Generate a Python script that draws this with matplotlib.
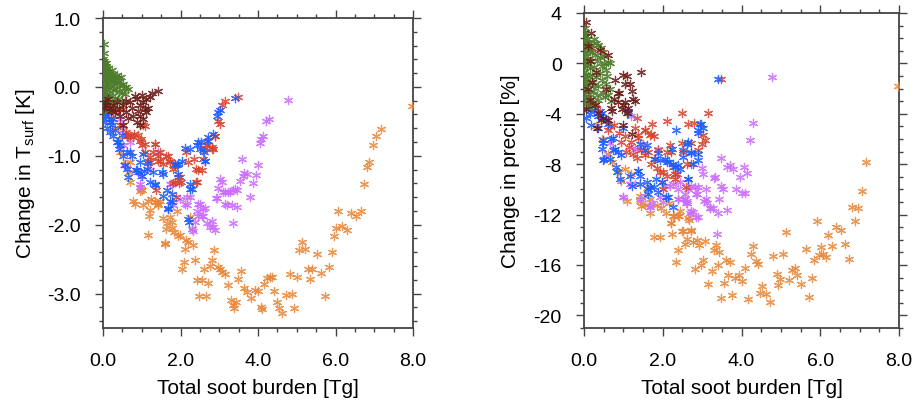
import matplotlib.pyplot as plt
from matplotlib.ticker import MultipleLocator, FormatStrFormatter

plt.rcParams['font.family'] = ['Liberation Sans', 'DejaVu Sans']
plt.rcParams['axes.unicode_minus'] = False

# (burden [Tg], change in surface temperature [K])
green_T = [(0.02,0.62),(0.02,0.49),(0.01,0.40),(0.03,0.37),(0.05,0.34),(0.02,0.31),(0.07,0.30),(0.04,0.27),
           (0.10,0.26),(0.01,0.24),(0.06,0.22),(0.12,0.21),(0.03,0.19),(0.09,0.17),(0.15,0.18),(0.20,0.16),
           (0.26,0.19),(0.31,0.15),(0.36,0.17),(0.42,0.13),(0.46,0.14),(0.01,0.13),(0.05,0.11),(0.11,0.10),
           (0.17,0.09),(0.23,0.07),(0.29,0.08),(0.37,0.05),(0.44,0.03),(0.52,0.04),(0.60,0.00),(0.65,-0.03),
           (0.02,0.05),(0.07,0.02),(0.13,0.00),(0.19,-0.02),(0.27,-0.04),(0.34,-0.03),(0.41,-0.07),(0.49,-0.09),
           (0.57,-0.11),(0.01,-0.04),(0.05,-0.08),(0.10,-0.10),(0.16,-0.12),(0.24,-0.13),(0.32,-0.16),(0.39,-0.18),
           (0.48,-0.20),(0.02,-0.15),(0.06,-0.19),(0.12,-0.22),(0.19,-0.24),(0.28,-0.27),(0.01,-0.25),(0.04,-0.29),
           (0.09,-0.31),(0.15,-0.30),(0.03,-0.34),(0.00,0.30),(0.00,0.18),(0.00,0.08),(0.00,-0.01),(0.00,-0.12),
           (0.00,-0.20),(0.08,0.35),(0.14,0.28),(0.22,0.24),(0.18,0.12),(0.25,0.02),(0.33,0.10),(0.55,-0.02),(0.40,0.09)]
brown_T = [(1.43,-0.06),(1.26,-0.09),(1.21,-0.15),(1.12,-0.18),(1.04,-0.22),(0.95,-0.27),(0.87,-0.17),(0.83,-0.13),
           (0.70,-0.22),(0.74,-0.30),(0.52,-0.27),(0.60,-0.37),(0.78,-0.42),(0.95,-0.42),(1.04,-0.46),(0.95,-0.56),
           (0.87,-0.51),(0.52,-0.56),(0.40,-0.32),(0.27,-0.27),(0.17,-0.30),(0.09,-0.27),(0.05,-0.22),(0.13,-0.17),
           (0.30,-0.37),(0.43,-0.42),(1.12,-0.37),(1.17,-0.30),(1.08,-0.32),(0.65,-0.45),(0.02,-0.30),(0.20,-0.35),
           (0.35,-0.22),(0.90,-0.35),(1.00,-0.12),(0.60,-0.20)]
blue_T = [(0.01,-0.32),(0.09,-0.42),(0.18,-0.51),(0.05,-0.51),(0.27,-0.46),(0.22,-0.56),(0.13,-0.37),(0.03,-0.42),
          (0.10,-0.60),(0.18,-0.66),(0.27,-0.71),(0.35,-0.80),(0.40,-0.90),(0.44,-0.85),(0.52,-1.00),(0.61,-0.95),
          (0.70,-0.95),(0.74,-1.00),(0.57,-1.14),(0.61,-1.19),(0.87,-1.21),(0.91,-1.24),(0.95,-1.09),(1.04,-0.97),
          (1.13,-1.19),(1.30,-1.24),(1.34,-1.41),(1.21,-1.38),(1.51,-1.24),(1.56,-1.26),(1.64,-1.50),(1.77,-1.55),
          (1.90,-1.14),(1.94,-1.12),(2.03,-1.07),(2.12,-0.88),(2.25,-0.90),(2.42,-0.85),(2.46,-0.80),(2.50,-0.90),
          (2.63,-1.07),(2.72,-0.73),(2.85,-0.68),(2.93,-0.42),(2.98,-0.37),(3.02,-0.34),(3.41,-0.16),(1.94,-1.26),
          (2.25,-1.41),(2.29,-1.48),(1.73,-1.65),(1.77,-1.67),(1.69,-1.76),(2.22,-1.96),(0.39,-0.80),(0.65,-1.31),
          (0.86,-1.21),(1.06,-1.22),(1.33,-1.43),(1.55,-1.58),(1.68,-1.77),(1.85,-1.12),(2.24,-1.48),(2.19,-1.92),
          (2.54,-0.80),(2.62,-1.07),(2.72,-0.78),(0.48,-0.70),(0.30,-0.62),(1.00,-1.30),(1.15,-1.10),(2.60,-0.95)]
red_T = [(3.49,-0.15),(3.15,-0.20),(3.06,-0.26),(2.98,-0.49),(3.02,-0.54),(2.89,-0.71),(2.81,-0.90),(2.68,-0.85),
         (2.59,-0.92),(2.59,-1.05),(2.55,-1.21),(0.69,-0.71),(0.80,-0.68),(0.90,-0.70),(0.99,-0.75),(1.08,-0.83),
         (1.33,-0.83),(1.29,-0.95),(1.46,-0.95),(1.16,-1.07),(1.42,-1.07),(1.63,-1.00),(1.72,-1.07),(1.55,-1.12),
         (1.85,-1.14),(1.94,-1.31),(1.96,-1.39),(1.80,-1.39),(2.15,-0.95),(2.19,-1.09),(2.34,-1.05),(2.41,-1.19),
         (2.46,-1.20),(2.62,-0.88),(2.84,-0.90),(2.88,-0.71),(2.41,-1.38),(1.89,-1.60),(1.38,-1.50),(1.22,-1.09),
         (0.60,-0.66),(0.61,-0.71),(0.78,-0.73),(0.95,-0.78),(1.00,-0.85),(1.34,-0.83),(1.08,-0.95),(1.21,-1.02),
         (1.43,-1.00),(1.47,-1.07),(1.69,-1.00),(1.73,-1.09),(1.81,-1.19),(1.99,-1.31),(2.00,-1.38),(1.85,-1.38),
         (2.42,-1.38),(2.80,-0.87),(2.68,-0.78),(0.34,-0.34),(0.52,-0.32),(0.65,-0.71),(1.08,-0.57),(1.04,-0.56),
         (0.20,-0.45),(0.45,-0.55)]
purple_T = [(4.78,-0.19),(4.21,-0.50),(4.29,-0.46),(4.14,-0.72),(4.09,-0.76),(4.05,-0.81),(3.59,-1.04),(4.01,-1.13),
            (3.95,-1.28),(3.71,-1.26),(3.62,-1.29),(3.54,-1.36),(3.88,-1.39),(3.79,-1.60),(3.45,-1.50),(3.36,-1.50),
            (3.27,-1.52),(3.14,-1.52),(3.02,-1.33),(3.06,-1.38),(2.98,-1.47),(2.93,-1.62),(3.15,-1.70),(3.19,-1.72),
            (3.32,-1.72),(3.45,-1.75),(2.46,-1.70),(2.63,-1.76),(2.25,-1.60),(2.16,-1.60),(1.99,-1.63),(1.77,-1.41),
            (1.43,-0.95),(0.95,-1.41),(0.95,-1.46),(0.48,-0.56),(0.52,-0.63),(0.43,-0.46),(2.50,-1.70),(1.81,-1.72),
            (2.16,-1.72),(2.42,-1.80),(2.59,-1.77),(2.46,-1.87),(2.59,-1.87),(2.37,-1.96),(2.68,-1.97),(2.80,-1.95),
            (2.76,-2.04),(2.85,-2.04),(2.89,-2.08),(2.29,-2.06),(2.33,-2.09),(3.36,-1.98),(2.55,-1.87),(2.92,-1.62),
            (0.52,-0.85),(0.99,-1.29),(1.72,-1.41),(2.11,-1.70),(3.65,-1.25),(3.10,-1.53),(3.23,-1.53),(3.41,-1.48),
            (0.70,-0.80),(1.20,-1.20)]
orange_T = [(7.98,-0.28),(7.17,-0.61),(7.04,-0.72),(6.96,-0.84),(6.87,-1.09),(6.82,-1.16),(6.74,-1.41),(6.07,-1.80),
            (6.39,-1.83),(6.52,-1.87),(6.65,-1.80),(6.01,-2.05),(6.18,-2.02),(6.29,-2.08),(5.96,-2.17),(5.14,-2.25),
            (5.06,-2.37),(5.22,-2.36),(5.51,-2.42),(5.91,-2.40),(5.28,-2.64),(5.40,-2.64),(5.83,-2.62),(5.63,-2.70),
            (5.33,-2.79),(4.83,-2.72),(5.00,-2.76),(5.73,-3.03),(4.89,-3.01),(4.71,-3.02),(4.94,-3.21),(4.62,-3.28),
            (4.54,-3.21),(4.48,-3.12),(4.42,-2.96),(4.16,-2.86),(4.22,-2.77),(4.31,-2.76),(4.35,-2.76),(4.08,-3.19),
            (4.11,-3.23),(3.83,-3.07),(3.72,-2.98),(3.93,-2.95),(4.01,-2.96),(3.65,-2.92),(3.48,-2.79),(3.23,-2.87),
            (3.30,-3.09),(3.36,-3.16),(3.42,-3.12),(3.39,-3.21),(3.56,-2.67),(3.14,-2.72),(3.02,-2.64),(3.06,-2.68),
            (2.96,-2.62),(2.77,-2.60),(2.61,-2.64),(2.81,-2.51),(2.86,-2.37),(2.71,-2.84),(2.67,-3.03),(2.47,-3.04),
            (2.42,-2.80),(2.55,-2.80),(2.37,-2.52),(2.08,-2.54),(2.04,-2.64),(2.12,-2.36),(2.15,-2.22),(2.20,-2.25),
            (2.32,-2.30),(1.98,-2.15),(1.61,-2.27),(1.17,-2.15),(1.82,-2.11),(1.77,-2.05),(1.63,-2.07),(1.66,-1.98),
            (1.79,-1.96),(1.73,-1.89),(1.54,-1.91),(1.92,-1.80),(2.24,-1.89),(2.29,-2.06),(1.21,-1.79),(1.19,-1.88),
            (0.78,-1.65),(0.83,-1.70),(1.04,-1.72),(1.34,-1.67),(1.43,-1.70),(1.47,-1.66),(1.00,-1.50),(0.70,-1.38),
            (0.68,-1.24),(0.57,-1.12),(0.95,-1.51),(0.69,-1.09),(0.99,-1.48),(1.16,-1.65),(1.25,-1.63),(1.38,-1.67),
            (1.42,-1.72),(1.59,-2.28),(1.94,-2.16),(0.55,-1.14),(0.40,-0.75),(0.30,-0.60),(0.20,-0.45),(0.45,-0.95)]

# (burden [Tg], change in precipitation [%])
green_P = [(0.02,2.8),(0.03,2.5),(0.05,2.2),(0.01,2.0),(0.08,1.9),(0.04,1.7),(0.12,1.6),(0.02,1.4),(0.17,1.5),
           (0.25,1.9),(0.30,1.6),(0.36,1.5),(0.44,1.2),(0.07,1.2),(0.14,1.0),(0.21,0.9),(0.01,0.8),(0.05,0.6),
           (0.28,0.7),(0.52,0.55),(0.40,0.5),(0.10,0.3),(0.18,0.2),(0.33,0.2),(0.60,0.1),(0.66,0.0),(0.02,0.0),
           (0.07,-0.2),(0.14,-0.4),(0.25,-0.3),(0.45,-0.2),(0.57,-0.5),(0.01,-0.7),(0.05,-0.9),(0.11,-1.0),
           (0.20,-0.9),(0.30,-1.1),(0.58,-1.0),(0.40,-0.8),(0.03,-1.4),(0.08,-1.6),(0.16,-1.5),(0.26,-1.7),
           (0.36,-1.8),(0.57,-1.6),(0.01,-2.0),(0.06,-2.2),(0.12,-2.4),(0.22,-2.2),(0.33,-2.5),(0.48,-2.35),
           (0.02,-2.7),(0.09,-2.9),(0.19,-2.8),(0.36,-2.9),(0.53,-2.7),(0.69,-3.0),(0.04,-3.2),(0.14,-3.3),
           (0.20,-3.4),(0.00,1.1),(0.00,0.3),(0.00,-0.4),(0.00,-1.2),(0.00,-1.9),(0.00,2.4),(0.65,-2.0),
           (0.45,-1.3),(0.62,-2.5),(0.50,0.0)]
brown_P = [(0.06,3.3),(0.19,2.4),(0.10,1.4),(0.40,1.1),(0.61,0.7),(1.45,-0.66),(0.98,-0.93),(1.10,-0.98),
           (0.79,-1.3),(1.04,-1.64),(1.17,-1.64),(1.21,-2.2),(0.90,-2.35),(0.86,-2.35),(1.25,-2.83),(1.29,-3.0),
           (0.86,-3.1),(1.03,-3.1),(1.00,-3.3),(1.12,-3.5),(0.96,-3.6),(1.08,-3.9),(0.70,-3.75),(0.69,-3.5),
           (0.49,-4.3),(0.61,-4.5),(0.44,-4.5),(0.32,-5.1),(0.36,-3.9),(0.27,-3.3),(0.15,-2.9),(0.10,-2.0),
           (0.30,-0.7),(1.00,-4.9),(1.21,-5.6),(0.20,-1.5),(0.55,-2.0),(0.75,-2.8),(0.05,-3.6),(0.15,0.2)]
blue_P = [(3.41,-1.24),(0.10,-3.6),(0.15,-4.0),(0.25,-3.7),(0.35,-4.2),(0.45,-3.9),(0.55,-4.4),(0.05,-4.3),
          (0.19,-4.9),(0.36,-5.1),(0.62,-4.8),(0.74,-5.9),(0.49,-6.1),(0.46,-6.8),(0.74,-6.9),(0.66,-7.6),
          (0.49,-7.7),(1.00,-5.1),(1.13,-3.8),(1.42,-6.4),(1.59,-6.5),(1.55,-6.9),(1.89,-7.1),(1.80,-7.6),
          (1.93,-7.7),(2.10,-7.8),(2.27,-8.0),(2.39,-8.1),(2.23,-6.8),(2.52,-7.4),(2.61,-6.4),(2.73,-7.1),
          (2.77,-8.0),(2.90,-5.5),(2.94,-4.8),(3.03,-5.1),(2.34,-5.3),(2.65,-6.2),(0.83,-8.6),(0.91,-9.2),
          (1.21,-9.7),(1.38,-8.5),(1.42,-8.9),(1.59,-9.4),(1.68,-9.8),(1.84,-9.2),(1.97,-9.4),(2.14,-10.6),
          (2.65,-9.2),(1.63,-10.4),(0.48,-6.3),(0.69,-6.0),(0.52,-7.6),(0.78,-6.8),(0.86,-7.05),(0.95,-7.3),
          (0.82,-8.2),(1.16,-8.9),(1.37,-8.5),(1.41,-9.6),(1.62,-9.96),(1.79,-9.8),(1.87,-10.2),(2.09,-10.6),
          (2.25,-11.4),(2.30,-8.2),(2.43,-8.4),(2.64,-9.2),(2.89,-7.7),(2.89,-7.2),(2.72,-7.05),(2.51,-6.9),
          (2.98,-4.8),(2.89,-5.3),(1.12,-3.9),(2.05,-7.6),(2.17,-7.8)]
red_P = [(3.49,-1.2),(2.50,-3.9),(3.16,-3.9),(2.12,-4.6),(2.65,-4.8),(2.80,-4.7),(1.72,-4.8),(1.34,-4.3),
         (1.29,-5.1),(1.55,-5.3),(1.68,-5.7),(1.78,-5.8),(1.38,-5.9),(3.03,-5.7),(3.07,-6.05),(2.99,-6.4),
         (2.73,-6.3),(2.48,-6.3),(2.18,-6.5),(1.89,-6.9),(2.10,-7.05),(2.90,-6.9),(2.61,-8.0),(2.73,-8.0),
         (2.27,-8.2),(2.35,-8.8),(2.31,-9.2),(1.93,-8.6),(1.97,-9.4),(1.71,-5.6),(1.54,-5.3),(1.37,-5.7),
         (2.22,-7.05),(2.51,-7.05),(1.62,-7.05),(1.54,-7.3),(1.79,-7.6),(1.07,-7.05),(1.15,-6.6),(1.25,-7.2),
         (1.35,-7.5),(1.45,-6.9),(2.60,-9.8),(2.01,-9.96),(2.01,-8.6),(2.30,-8.8),(0.55,-4.6),(0.65,-5.0),
         (0.60,-5.3),(0.75,-4.9),(0.90,-5.5),(1.05,-5.8),(1.20,-6.2),(0.40,-3.8),(0.30,-3.2),(0.49,0.9),
         (0.20,1.2),(0.95,-6.2),(1.70,-8.0),(1.85,-8.3),(2.10,-8.9)]
purple_P = [(4.78,-1.1),(4.30,-4.7),(4.21,-6.1),(3.47,-7.5),(4.06,-8.25),(4.15,-8.7),(3.62,-8.25),(3.71,-8.1),
            (3.79,-8.4),(2.99,-8.3),(3.03,-8.8),(3.31,-9.1),(3.96,-9.0),(3.49,-9.7),(3.54,-9.96),(3.87,-10.0),
            (4.00,-10.3),(4.09,-10.3),(2.82,-9.8),(2.90,-9.8),(3.11,-9.96),(2.86,-10.4),(2.56,-10.4),(2.52,-10.75),
            (2.44,-9.4),(2.18,-9.7),(2.31,-8.8),(2.39,-10.8),(2.62,-10.95),(3.11,-10.75),(3.43,-10.8),(1.00,-10.6),
            (1.17,-9.6),(1.34,-6.8),(3.37,-13.5),(3.64,-11.6),(3.41,-11.9),(3.20,-11.5),(3.13,-11.1),(2.89,-12.2),
            (2.69,-11.9),(2.73,-11.7),(2.61,-11.1),(1.68,-11.4),(1.72,-11.1),(3.32,-9.0),(2.85,-10.35),(3.06,-10.9),
            (3.19,-11.5),(3.27,-11.5),(2.64,-9.96),(2.72,-9.7),(2.39,-9.96),(2.56,-10.75),(2.60,-11.1),(2.77,-11.8),
            (2.85,-12.2),(2.39,-10.75),(2.25,-9.6),(2.05,-9.7),(1.92,-10.6),(2.01,-11.0),(1.67,-11.4),(1.54,-10.5),
            (1.41,-10.75),(1.16,-9.6),(0.99,-10.6),(1.29,-6.8),(1.20,-4.15),(1.50,-6.4),(1.88,-6.8),(0.66,-6.3),
            (0.57,-7.45),(0.40,-4.1),(0.30,-3.5)]
orange_P = [(7.98,-1.8),(7.15,-7.8),(7.05,-10.1),(6.81,-11.4),(6.95,-11.5),(6.88,-12.5),(5.91,-12.5),(6.39,-13.0),
            (6.52,-13.2),(6.20,-13.6),(5.14,-13.4),(6.29,-14.5),(6.64,-14.3),(6.73,-15.5),(5.63,-14.7),(5.85,-15.6),
            (5.96,-15.2),(6.07,-15.1),(6.14,-15.4),(6.02,-14.6),(4.81,-15.3),(5.06,-15.1),(4.30,-14.5),(4.23,-15.1),
            (4.37,-15.7),(4.42,-15.9),(4.08,-16.2),(5.29,-16.4),(5.35,-16.2),(5.41,-16.8),(4.89,-16.7),(4.99,-17.1),
            (5.20,-17.2),(4.93,-17.6),(5.52,-17.5),(5.79,-17.0),(5.72,-18.5),(4.53,-17.7),(4.48,-18.2),(4.61,-18.3),
            (4.72,-18.9),(4.17,-18.7),(4.02,-17.3),(3.93,-16.8),(3.83,-17.0),(3.65,-16.8),(3.55,-17.4),(3.70,-15.8),
            (3.60,-15.6),(3.76,-18.4),(3.49,-18.6),(3.41,-16.0),(3.44,-15.0),(3.36,-14.4),(3.30,-14.8),(3.24,-16.5),
            (3.16,-17.5),(3.07,-14.1),(3.01,-15.6),(2.96,-16.0),(2.86,-14.0),(2.91,-14.4),(2.76,-14.2),(2.62,-13.9),
            (2.56,-14.3),(2.81,-16.3),(2.71,-13.2),(2.49,-13.3),(2.38,-14.8),(2.33,-15.8),(2.24,-13.5),(2.20,-12.7),
            (2.67,-12.4),(1.78,-13.8),(1.93,-13.8),(2.42,-12.1),(2.29,-12.1),(2.09,-11.9),(2.16,-11.1),(1.85,-11.2),
            (1.54,-11.2),(1.10,-10.9),(1.03,-8.4),(0.95,-9.3),(1.29,-9.6),(1.41,-10.5),(1.42,-10.9),(1.45,-11.3),
            (1.67,-10.75),(1.67,-11.9),(1.96,-11.5),(2.25,-12.1),(2.39,-12.1),(2.43,-11.7),(2.22,-12.7),(2.64,-12.3),
            (2.51,-13.3),(2.72,-13.3),(0.86,-8.5),(0.70,-7.8),(0.60,-7.2),(0.45,-6.0),(0.30,-5.0),(1.20,-8.8),(1.60,-9.9)]

colors = {'orange': '#e8873a', 'purple': '#cc6cff', 'red': '#d8432e',
          'blue': '#1c5cff', 'green': '#4e7d2c', 'brown': '#6b1a16'}

left_sets = [('orange', orange_T), ('purple', purple_T), ('red', red_T),
             ('blue', blue_T), ('green', green_T), ('brown', brown_T)]
right_sets = [('orange', orange_P), ('purple', purple_P), ('red', red_P),
              ('blue', blue_P), ('green', green_P), ('brown', brown_P)]

fig = plt.figure(figsize=(9.16, 4.02), dpi=100)
ax1 = fig.add_axes([103/916, 73/402, 310/916, 310/402])
ax2 = fig.add_axes([584/916, 73/402, 315/916, 315/402])


def draw(ax, sets):
    for name, pts in sets:
        xs = [p[0] for p in pts]
        ys = [p[1] for p in pts]
        ax.scatter(xs, ys, marker=(6, 2, 0), s=36, linewidths=0.9,
                   color=colors[name], alpha=0.85, zorder=3)


draw(ax1, left_sets)
draw(ax2, right_sets)

for ax in (ax1, ax2):
    ax.set_xlim(0, 8)
    ax.xaxis.set_major_locator(MultipleLocator(2))
    ax.xaxis.set_minor_locator(MultipleLocator(0.5))
    ax.xaxis.set_major_formatter(FormatStrFormatter('%.1f'))
    ax.tick_params(which='both', direction='out', top=True, right=True,
                   color='#444444', width=1.0, labelsize=14)
    ax.tick_params(axis='x', which='both', pad=11)
    ax.tick_params(axis='y', which='both', pad=10)
    ax.tick_params(which='major', length=6)
    ax.tick_params(which='minor', length=3)
    for sp in ax.spines.values():
        sp.set_linewidth(1.3)
        sp.set_color('#444444')
    ax.set_xlabel('Total soot burden [Tg]', fontsize=15, labelpad=7)

ax1.set_ylim(-3.5, 1.0)
ax1.yaxis.set_major_locator(MultipleLocator(1.0))
ax1.yaxis.set_minor_locator(MultipleLocator(0.2))
ax1.yaxis.set_major_formatter(FormatStrFormatter('%.1f'))
ax1.set_ylabel('Change in T$_\\mathregular{surf}$ [K]', fontsize=15, labelpad=7)

ax2.set_ylim(-21, 4)
ax2.yaxis.set_major_locator(MultipleLocator(4))
ax2.yaxis.set_minor_locator(MultipleLocator(1))
ax2.set_ylabel('Change in precip [%]', fontsize=15, labelpad=10)

fig.savefig('out.png', dpi=100)
